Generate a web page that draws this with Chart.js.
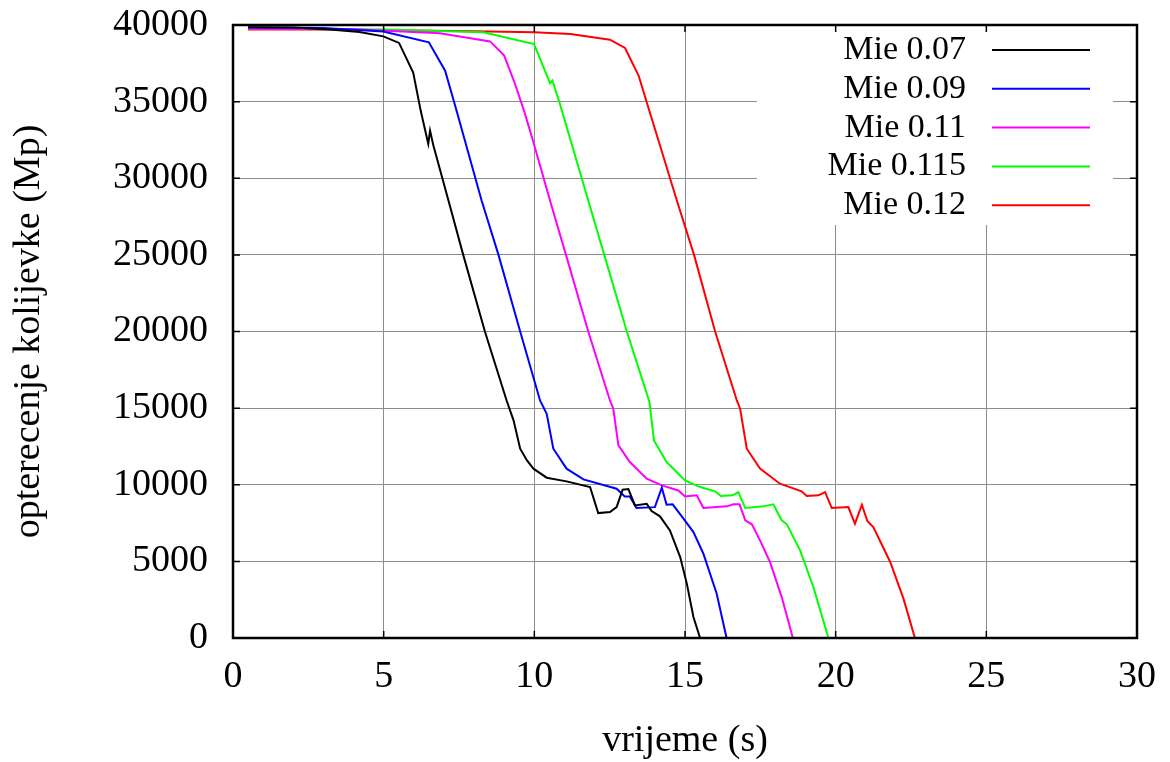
<!DOCTYPE html>
<html lang="hr">
<head>
<meta charset="utf-8">
<title>Opterecenje kolijevke</title>
<script src="https://cdn.jsdelivr.net/npm/chart.js"></script>
<style>
  html, body { margin: 0; padding: 0; background: #fff; }
</style>
</head>
<body>
<canvas id="opterecenjeChart" width="1170" height="762"></canvas>
<script>
// vrijeme (s) / opterecenje (Mp)
const mie007X = [0.5, 2.0, 3.22, 4.2, 4.99, 5.51, 5.98, 6.23, 6.48, 6.54, 6.65, 7.15, 7.64, 8.36, 9.08, 9.31, 9.53, 9.75, 9.97, 10.41, 11.07, 11.85, 12.12, 12.51, 12.73, 12.93, 13.12, 13.34, 13.73, 13.89, 14.17, 14.5, 14.84, 15.06, 15.28, 15.5];
const mie007Y = [39850, 39830, 39700, 39550, 39260, 38830, 36900, 34400, 32240, 33110, 32130, 28545, 25000, 20000, 15500, 14200, 12350, 11600, 11050, 10460, 10220, 9850, 8150, 8220, 8540, 9680, 9720, 8650, 8760, 8280, 7940, 7020, 5280, 3550, 1370, 0];

const mie009X = [0.5, 3.0, 4.99, 6.5, 7.04, 7.42, 8.25, 8.81, 9.53, 10.19, 10.41, 10.63, 11.07, 11.63, 12.73, 13.0, 13.17, 13.39, 14.0, 14.23, 14.39, 14.59, 14.95, 15.28, 15.61, 16.05, 16.38];
const mie009Y = [39850, 39800, 39570, 38870, 37020, 34400, 28545, 25000, 20000, 15500, 14630, 12350, 11050, 10350, 9740, 9240, 9240, 8480, 8540, 9810, 8700, 8720, 7790, 6910, 5500, 2900, 0];

const mie011X = [0.5, 4.0, 6.87, 8.53, 9.0, 9.36, 9.66, 9.97, 10.52, 11.05, 11.79, 12.51, 12.62, 12.79, 13.17, 13.73, 14.23, 14.78, 15.0, 15.39, 15.61, 16.39, 16.61, 16.81, 17.0, 17.22, 17.49, 17.82, 18.21, 18.58];
const mie011Y = [39750, 39720, 39460, 38930, 38000, 36150, 34400, 32350, 28545, 25000, 20000, 15500, 14960, 12570, 11480, 10400, 9960, 9630, 9240, 9310, 8480, 8590, 8720, 8720, 7680, 7420, 6370, 4960, 2670, 0];

const mie0115X = [0.5, 5.0, 8.31, 9.99, 10.48, 10.52, 10.6, 10.85, 11.79, 12.32, 13.07, 13.82, 13.97, 14.39, 15.0, 15.5, 16.0, 16.19, 16.58, 16.77, 17.0, 17.6, 17.93, 18.21, 18.38, 18.82, 19.26, 19.76];
const mie0115Y = [39750, 39700, 39520, 38760, 36400, 36200, 36380, 34850, 28545, 25000, 20000, 15400, 12890, 11480, 10280, 9850, 9570, 9260, 9310, 9520, 8480, 8590, 8720, 7680, 7420, 5720, 3330, 0];

const mie012X = [0.5, 3.2, 8.0, 10.0, 11.2, 12.51, 13.01, 13.46, 13.73, 14.73, 15.3, 16.0, 16.72, 16.83, 17.05, 17.49, 18.15, 18.87, 19.04, 19.43, 19.65, 19.87, 20.42, 20.64, 20.87, 21.05, 21.25, 21.81, 22.25, 22.63];
const mie012Y = [39700, 39700, 39600, 39520, 39410, 39040, 38500, 36700, 34960, 28545, 25000, 20000, 15500, 14960, 12350, 11050, 10070, 9570, 9260, 9310, 9520, 8480, 8540, 7460, 8700, 7630, 7240, 4960, 2570, 0];

const serieLabels = ['Mie 0.07', 'Mie 0.09', 'Mie 0.11', 'Mie 0.115', 'Mie 0.12'];
const serieColors = ['#000000', '#0000ff', '#ff00ff', '#00ff00', '#ff0000'];
const serieX = [mie007X, mie009X, mie011X, mie0115X, mie012X];
const serieY = [mie007Y, mie009Y, mie011Y, mie0115Y, mie012Y];

const xTicks = [0, 5, 10, 15, 20, 25, 30];
const yTicks = [0, 5000, 10000, 15000, 20000, 25000, 30000, 35000, 40000];

const FONT = 'Liberation Serif, Times New Roman, serif';

function toPoints(xs, ys) {
    return xs.map(function (x, i) { return { x: x, y: ys[i] }; });
}

const datasets = serieLabels.map(function (label, i) {
    return {
        label: label,
        data: toPoints(serieX[i], serieY[i]),
        borderColor: serieColors[i],
        borderWidth: 2,
        pointRadius: 0,
        fill: false,
        tension: 0
    };
});

// gnuplot style key (white box, text right aligned, sample on the right)
// plus a black border with inward ticks on all four sides
const gnuplotLook = {
    id: 'gnuplotLook',
    beforeDatasetsDraw(chart) {
        const ctx = chart.ctx;
        const area = chart.chartArea;
        const boxLeft = area.right - 380;
        const boxRight = area.right - 24;
        ctx.save();
        ctx.fillStyle = '#fff';
        ctx.fillRect(boxLeft, area.top, boxRight - boxLeft, 200);
        ctx.font = '34px ' + FONT;
        ctx.textAlign = 'right';
        ctx.textBaseline = 'middle';
        chart.data.datasets.forEach(function (ds, i) {
            const y = area.top + 25 + i * 38.8;
            ctx.fillStyle = '#000';
            ctx.fillText(ds.label, area.right - 171, y);
            ctx.strokeStyle = ds.borderColor;
            ctx.lineWidth = 2;
            ctx.beginPath();
            ctx.moveTo(area.right - 145, y);
            ctx.lineTo(area.right - 47, y);
            ctx.stroke();
        });
        ctx.restore();
    },
    afterDatasetsDraw(chart) {
        const ctx = chart.ctx;
        const area = chart.chartArea;
        const xs = chart.scales.x;
        const ys = chart.scales.y;
        const len = 7;
        ctx.save();
        ctx.strokeStyle = '#000';
        ctx.lineWidth = 1.5;
        ctx.beginPath();
        xTicks.forEach(function (v) {
            const px = xs.getPixelForValue(v);
            ctx.moveTo(px, area.bottom);
            ctx.lineTo(px, area.bottom - len);
            ctx.moveTo(px, area.top);
            ctx.lineTo(px, area.top + len);
        });
        yTicks.forEach(function (v) {
            const py = ys.getPixelForValue(v);
            ctx.moveTo(area.left, py);
            ctx.lineTo(area.left + len, py);
            ctx.moveTo(area.right, py);
            ctx.lineTo(area.right - len, py);
        });
        ctx.stroke();
        ctx.lineWidth = 2.5;
        ctx.strokeRect(area.left, area.top, area.right - area.left, area.bottom - area.top);
        ctx.restore();
    }
};

const ctx = document.getElementById('opterecenjeChart');

new Chart(ctx, {
    type: 'line',
    data: { datasets: datasets },
    options: {
        responsive: false,
        animation: false,
        layout: { padding: { top: 25, right: 33, left: 0, bottom: 0 } },
        plugins: {
            legend: { display: false },
            tooltip: { enabled: false }
        },
        scales: {
            x: {
                type: 'linear',
                min: 0,
                max: 30,
                afterFit: function (scale) {
                    scale.height = 124;
                    scale.paddingLeft = 0;
                    scale.paddingRight = 0;
                },
                afterBuildTicks: function (scale) {
                    scale.ticks = xTicks.map(function (v) { return { value: v }; });
                },
                ticks: {
                    color: '#000',
                    padding: 16,
                    maxRotation: 0,
                    font: { family: FONT, size: 38 }
                },
                grid: { color: '#8c8c8c', lineWidth: 1, drawTicks: false },
                border: { display: false },
                title: {
                    display: true,
                    text: 'vrijeme (s)',
                    color: '#000',
                    padding: 0,
                    font: { family: FONT, size: 38, lineHeight: 1.1 }
                }
            },
            y: {
                min: 0,
                max: 40000,
                afterFit: function (scale) {
                    scale.width = 233;
                    scale.paddingTop = 0;
                    scale.paddingBottom = 0;
                },
                afterBuildTicks: function (scale) {
                    scale.ticks = yTicks.map(function (v) { return { value: v }; });
                },
                ticks: {
                    color: '#000',
                    padding: 25,
                    font: { family: FONT, size: 38 },
                    callback: function (v) { return String(v); }
                },
                grid: { color: '#8c8c8c', lineWidth: 1, drawTicks: false },
                border: { display: false },
                title: {
                    display: true,
                    text: 'opterecenje kolijevke (Mp)',
                    color: '#000',
                    padding: { top: 6, bottom: 0 },
                    font: { family: FONT, size: 38, lineHeight: 1.2 }
                }
            }
        }
    },
    plugins: [gnuplotLook]
});
</script>
</body>
</html>
